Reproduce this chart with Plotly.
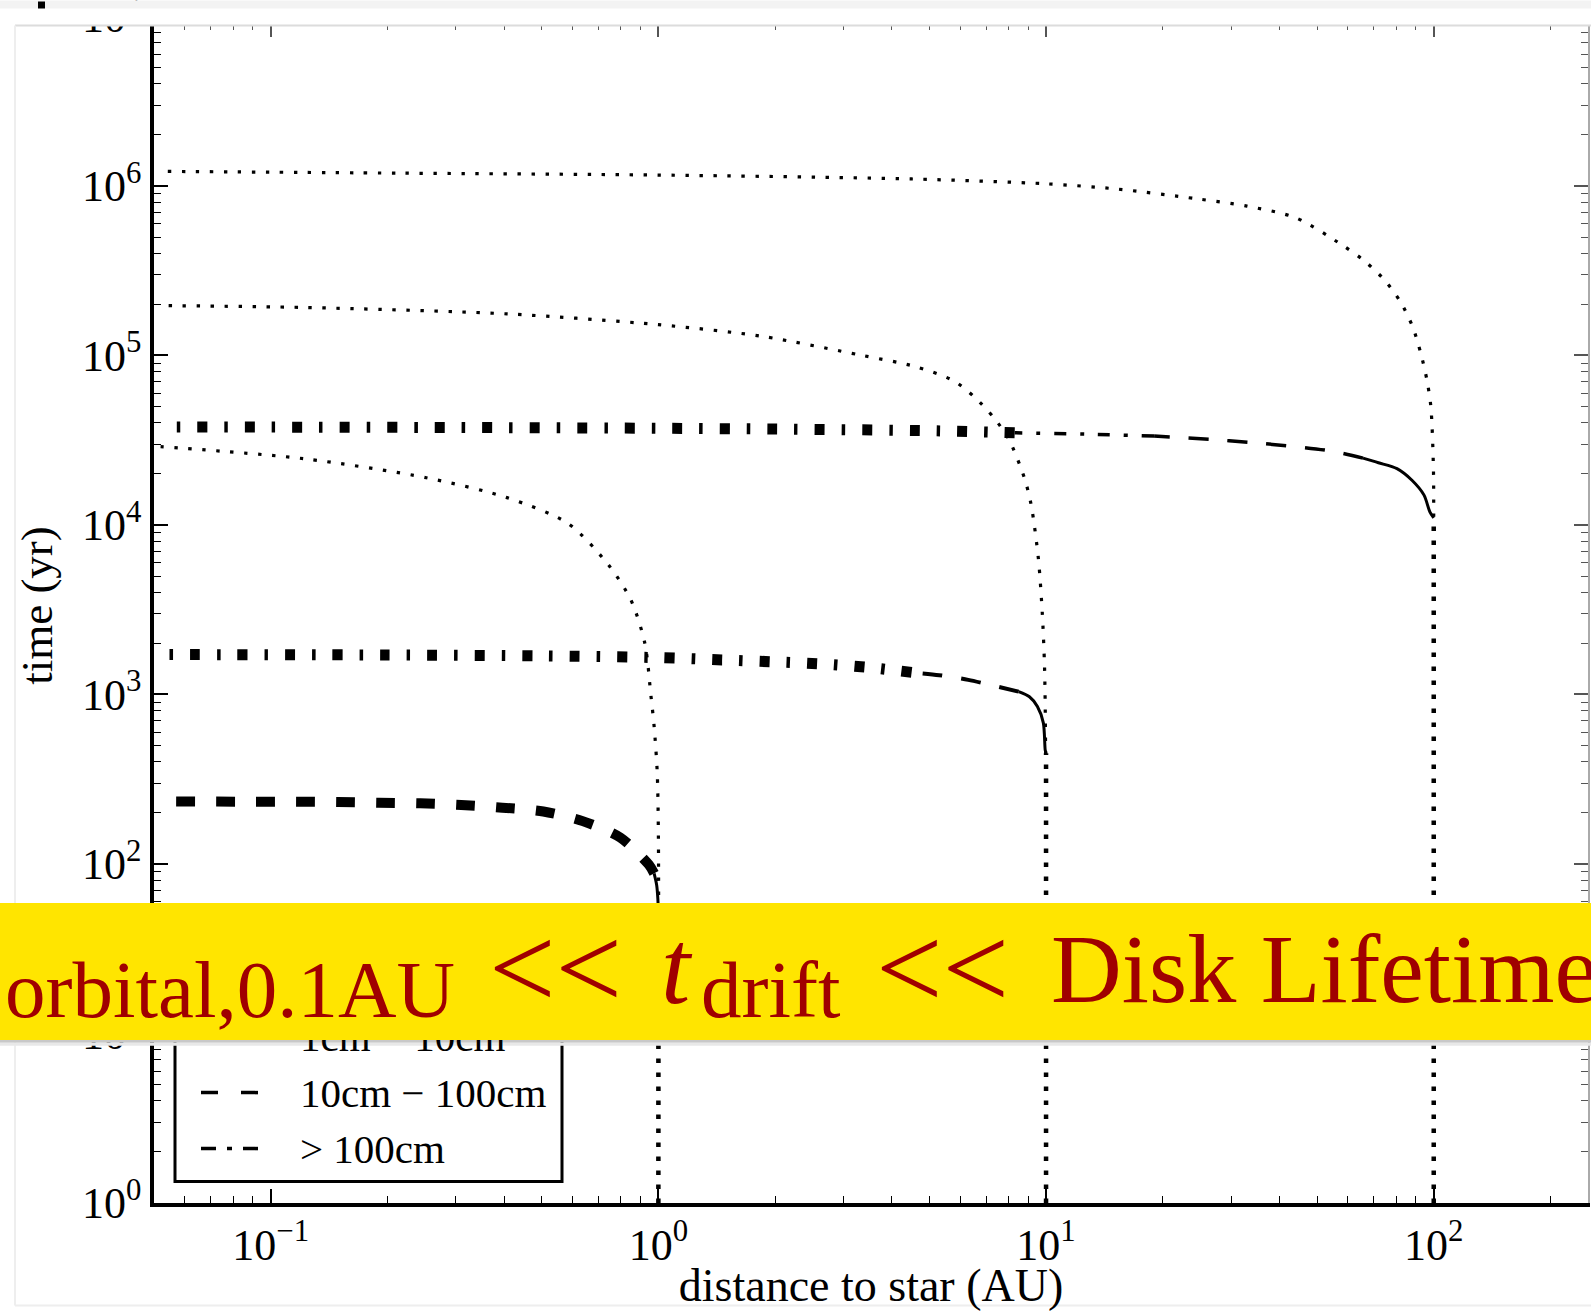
import math
import plotly.graph_objects as go

# ---------------- data ----------------
# thin dotted curves (small grains), starting at 1, 10, 100 AU
dot1_x = [1, 1, 0.993, 0.975, 0.956, 0.923, 0.85, 0.744, 0.585, 0.407, 0.252, 0.122, 0.052]
dot1_y = [1, 150, 350, 650, 1000, 2000, 3600, 5800, 10200, 14500, 19000, 24600, 29000]
dot10_x = [10, 9.97, 9.91, 9.78, 9.55, 9.15, 8.79, 8.02, 7.33, 6.53, 5.77, 4.6, 3.36, 1.84, 1.0, 0.407, 0.122, 0.052]
dot10_y = [1, 500, 1460, 3000, 6400, 13200, 19000, 32000, 43000, 57000, 71000, 86000, 100000, 130000, 152000, 176000, 192000, 197000]
dot100_x = [100, 100, 99.8, 98.3, 96, 92.6, 88.4, 82.3, 74.8, 66.4, 57.9, 44, 33, 24.5, 15.2, 10, 4.5, 1.0, 0.22, 0.052]
dot100_y = [1, 1e4, 2.2e4, 5.0e4, 7.2e4, 1.03e5, 1.46e5, 2.05e5, 2.77e5, 3.6e5, 4.5e5, 6.5e5, 7.6e5, 8.4e5, 9.6e5, 1.03e6, 1.1e6, 1.16e6, 1.19e6, 1.22e6]

# growing particle starting at 100 AU
g100_dot_x = [100, 100]
g100_dot_y = [1, 11000]
g100_solid_x = [100, 97.8, 94.4, 88, 80.4, 72, 65.7]
g100_solid_y = [11000, 11900, 15000, 18300, 21500, 23300, 24800]
g100_dash_x = [65.7, 55, 44, 33.5, 26.5, 19]
g100_dash_y = [24800, 27200, 29000, 30700, 32000, 33500]
g100_dd_thin_x = [19, 13, 8.3]
g100_dd_thin_y = [33500, 34300, 35000]
g100_dd_x = [8.3, 5, 2, 1, 0.3, 0.1, 0.052]
g100_dd_y = [35000, 36000, 36800, 37200, 37600, 37800, 37800]

# growing particle starting at 10 AU
g10_dot_x = [10, 10]
g10_dot_y = [1, 450]
g10_solid_x = [10, 9.95, 9.84, 9.5, 9.06, 8.5]
g10_solid_y = [450, 470, 680, 850, 970, 1040]
g10_dash_x = [8.5, 7.4, 6.3, 5.3, 4.5]
g10_dash_y = [1040, 1120, 1220, 1300, 1350]
g10_dd_x = [4.5, 3.43, 2.57, 1.96, 1.46, 1.0, 0.5, 0.2, 0.052]
g10_dd_y = [1350, 1450, 1520, 1560, 1600, 1650, 1690, 1710, 1720]

# growing particle starting at 1 AU
g1_dot_x = [1, 1]
g1_dot_y = [1, 50]
g1_solid_x = [1, 0.997, 0.99, 0.975]
g1_solid_y = [50, 62, 75, 88]
g1_dash_x = [0.975, 0.945, 0.798, 0.638, 0.505, 0.396, 0.31, 0.243, 0.19, 0.149, 0.117, 0.0918, 0.053]
g1_dash_y = [88, 99, 143, 179, 204, 215, 223, 228, 230, 232, 233, 233, 234]

legend_names = ["&lt; 1cm", "1cm − 10cm", "10cm − 100cm", "&gt; 100cm"]
x_tick_vals = [0.1, 1, 10, 100]
x_tick_text = ["10<sup>−1</sup>", "10<sup>0</sup>", "10<sup>1</sup>", "10<sup>2</sup>"]
y_tick_vals = [1, 10, 100, 1e3, 1e4, 1e5, 1e6, 1e7]
y_tick_text = ["10<sup>%d</sup>" % i for i in range(8)]
x_title = "distance to star (AU)"
y_title = "time (yr)"
banner_parts = ["orbital,0.1AU", "&lt;&lt;", "<i>t</i>", "drift", "&lt;&lt;", "Disk Lifetime"]

# ---------------- layout geometry ----------------
W, H = 1591, 1311
L, R, T, B = 154, 3, 7.5, 107.5
PW, PH = W - L - R, H - T - B
def px(x):
    return (x - L) / PW
def py(y):
    return (H - B - y) / PH

SERIF = "Liberation Serif, Times New Roman, serif"
BANNER_RED = "#A00000"

fig = go.Figure()

def add(x, y, width, dash, shape="spline"):
    fig.add_trace(go.Scatter(x=x, y=y, mode="lines", showlegend=False, hoverinfo="skip",
                             line=dict(color="black", width=width, dash=dash,
                                       shape=shape, smoothing=0.8)))

THIN_DOT = "3.4px,10.6px"
BOLD_DOT = "4.5px,9.5px"
for xs, ys in [(dot1_x, dot1_y), (dot10_x, dot10_y), (dot100_x, dot100_y)]:
    add(xs, ys, 3.2, THIN_DOT)
for xs, ys in [(g1_dot_x, g1_dot_y), (g10_dot_x, g10_dot_y), (g100_dot_x, g100_dot_y)]:
    add(xs, ys, 4.5, BOLD_DOT, "linear")
# 100 AU growth track
add(g100_solid_x, g100_solid_y, 3, "solid")
add(g100_dash_x, g100_dash_y, 3.5, "20px,19px")
add(g100_dd_thin_x, g100_dd_thin_y, 3.5, "12px,14px,4px,14px")
add(g100_dd_x, g100_dd_y, 11, "10px,17px,3.5px,17px")
# 10 AU growth track
add(g10_solid_x, g10_solid_y, 3, "solid")
add(g10_dash_x, g10_dash_y, 4, "20px,19px")
add(g10_dd_x, g10_dd_y, 11, "10px,17px,3.5px,17px")
# 1 AU growth track
add(g1_solid_x, g1_solid_y, 3, "solid")
add(g1_dash_x, g1_dash_y, 10, "19px,21px")

# dummy trace to create the mirrored (top / right) axes
fig.add_trace(go.Scatter(x=[None], y=[None], xaxis="x2", yaxis="y2", showlegend=False,
                         hoverinfo="skip", mode="lines"))

xrange = [math.log10(0.05), math.log10(250)]
yrange = [0, 7.05]
x_minor = [m * 10 ** e for e in range(-2, 3) for m in range(2, 10)]
y_minor = [m * 10 ** e for e in range(0, 7) for m in range(2, 10)]

common = dict(showgrid=False, zeroline=False, ticks="inside")
fig.update_layout(
    width=W, height=H,
    margin=dict(l=L, r=R, t=T, b=B, autoexpand=False),
    paper_bgcolor="white", plot_bgcolor="white",
    font=dict(family=SERIF, color="black"),
    showlegend=False,
    xaxis=dict(type="log", range=xrange, tickmode="array", tickvals=x_tick_vals, ticktext=x_tick_text,
               ticklen=14, tickwidth=1.5, tickcolor="black", showline=True, linecolor="black",
               linewidth=3.5, tickfont=dict(family=SERIF, size=44), ticklabeloverflow="allow",
               minor=dict(ticks="inside", ticklen=7, tickwidth=1.3, tickcolor="black", tickvals=x_minor),
               title=dict(text=x_title, font=dict(family=SERIF, size=46), standoff=20), **common),
    yaxis=dict(type="log", range=yrange, tickmode="array", tickvals=y_tick_vals, ticktext=y_tick_text,
               ticklen=14, tickwidth=1.5, tickcolor="black", showline=True, linecolor="black",
               linewidth=3.5, tickfont=dict(family=SERIF, size=44), ticklabeloverflow="allow",
               minor=dict(ticks="inside", ticklen=7, tickwidth=1.3, tickcolor="black", tickvals=y_minor),
               title=dict(text=y_title, font=dict(family=SERIF, size=45), standoff=16), **common),
    xaxis2=dict(type="log", range=xrange, overlaying="x", side="top", anchor="y2", tickmode="array",
                tickvals=x_tick_vals, showticklabels=False, ticklen=29, tickwidth=1.5, tickcolor="#555",
                showline=True, linecolor="#aaa", linewidth=1.5,
                minor=dict(ticks="inside", ticklen=22, tickwidth=1.3, tickcolor="#555", tickvals=x_minor),
                **common),
    yaxis2=dict(type="log", range=yrange, overlaying="y", side="right", anchor="x2", tickmode="array",
                tickvals=y_tick_vals, showticklabels=False, ticklen=14, tickwidth=1.5, tickcolor="#555",
                showline=True, linecolor="#aaa", linewidth=1.5,
                minor=dict(ticks="inside", ticklen=7, tickwidth=1.3, tickcolor="#555", tickvals=y_minor),
                **common),
)

# ---------------- legend (drawn by hand so the banner can sit over it) ----------------
LEG_BOX = (175, 947, 562, 1182)
LEG_ROWS = [981, 1037, 1093, 1149]
legend_styles = [("3.4px,8px", 3.2), ("solid", 3), ("17px,23px", 3.5), ("15px,11px,5px,11px", 3.5)]

shapes = [
    dict(type="rect", xref="paper", yref="paper", x0=px(LEG_BOX[0]), x1=px(LEG_BOX[2]),
         y0=py(LEG_BOX[3]), y1=py(LEG_BOX[1]), fillcolor="white",
         line=dict(color="black", width=3), layer="above"),
]
for yrow, (dash, w) in zip(LEG_ROWS, legend_styles):
    shapes.append(dict(type="line", xref="paper", yref="paper", x0=px(201), x1=px(259),
                       y0=py(yrow), y1=py(yrow), line=dict(color="black", width=w, dash=dash),
                       layer="above"))
shapes += [
    # slide header strip covering the top of the figure
    dict(type="rect", xref="paper", yref="paper", x0=px(0), x1=px(W), y0=py(0), y1=py(25),
         fillcolor="white", line=dict(width=0), layer="above"),
    dict(type="rect", xref="paper", yref="paper", x0=px(0), x1=px(W), y0=py(0), y1=py(8),
         fillcolor="#f3f3f3", line=dict(width=0), layer="above"),
    dict(type="rect", xref="paper", yref="paper", x0=px(38), x1=px(45), y0=py(1), y1=py(8),
         fillcolor="black", line=dict(width=0), layer="above"),
    # panel border
    dict(type="line", xref="paper", yref="paper", x0=px(15), x1=px(W), y0=py(25), y1=py(25),
         line=dict(color="#dcdcdc", width=2), layer="above"),
    dict(type="line", xref="paper", yref="paper", x0=px(15), x1=px(15), y0=py(25), y1=py(1306),
         line=dict(color="#eeeeee", width=2), layer="above"),
    dict(type="line", xref="paper", yref="paper", x0=px(15), x1=px(W), y0=py(1306), y1=py(1306),
         line=dict(color="#eeeeee", width=2), layer="above"),
    # banner shadow
    dict(type="rect", xref="paper", yref="paper", x0=px(0), x1=px(W), y0=py(1040), y1=py(1043),
         fillcolor="#c8c8c8", line=dict(width=0), layer="above"),
    dict(type="rect", xref="paper", yref="paper", x0=px(0), x1=px(W), y0=py(1043), y1=py(1046),
         fillcolor="#e8e8e8", line=dict(width=0), layer="above"),
]
fig.update_layout(shapes=shapes)

annotations = []
for name, yrow in zip(legend_names, LEG_ROWS):
    annotations.append(dict(text=name, xref="paper", yref="paper", x=px(299), y=py(yrow),
                            xanchor="left", yanchor="middle", showarrow=False, borderpad=0,
                            font=dict(family=SERIF, size=41, color="black")))
# yellow banner (on top of the legend)
annotations.append(dict(text=" ", xref="paper", yref="paper", x=px(W / 2), y=py(971.5), xanchor="center",
                        yanchor="middle", width=W + 4, height=137, bgcolor="#FFE500", borderpad=0,
                        borderwidth=0, showarrow=False))
# banner text pieces: (left px, centre px, size)
piece_pos = [(4, 990, 81), (488, 969, 118), (660, 968, 105), (700, 990, 81), (875, 969, 118), (1050, 969, 98)]
for txt, (xl, yc, sz) in zip(banner_parts, piece_pos):
    annotations.append(dict(text=txt, xref="paper", yref="paper", x=px(xl), y=py(yc), xanchor="left",
                            yanchor="middle", showarrow=False, borderpad=0,
                            font=dict(family=SERIF, size=sz, color=BANNER_RED)))
fig.update_layout(annotations=annotations)

fig.write_html("out.html")
